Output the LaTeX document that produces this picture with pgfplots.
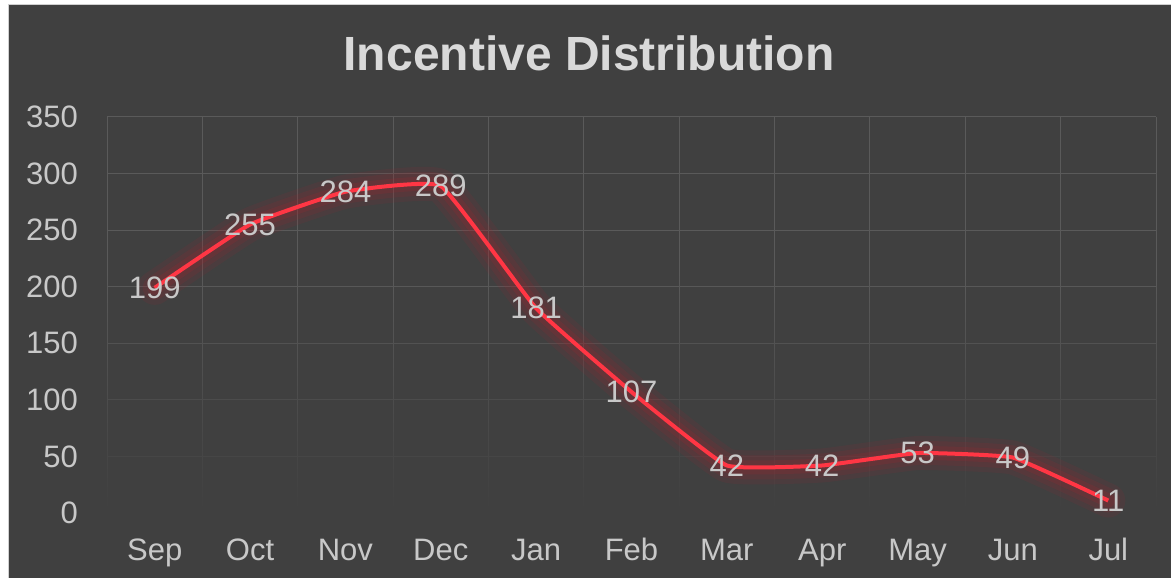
\documentclass[border=0pt]{standalone}
\usepackage{fontspec}
\setmainfont{Liberation Sans}
\usepackage{pgfplots}
\pgfplotsset{compat=1.18}
\usetikzlibrary{fadings}
\definecolor{bg}{HTML}{404040}
\definecolor{gridc}{HTML}{5A5A5A}
\definecolor{txt}{HTML}{C8C8C8}
\definecolor{ttl}{HTML}{D9D9D9}
\definecolor{linec}{HTML}{FF3644}
\definecolor{glowc}{HTML}{A02630}
\definecolor{frame}{HTML}{D0D0D0}
\pgfplotstableread{
x y
0 199
1 255
2 284
3 289
4 181
5 107
6 42
7 42
8 53
9 49
10 11
}\datatable
\begin{document}
\begin{tikzpicture}[x=1pt,y=1pt]
\useasboundingbox (0,0) rectangle (1171,578);
\fill[white] (0,0) rectangle (1171,578);
\fill[bg] (8.5,0) rectangle (1171,573.5);
\draw[frame,line width=1.5pt] (8.5,0) -- (8.5,573.5) -- (1171,573.5);
\node[anchor=base,text=ttl,font=\bfseries\fontsize{48}{56}\selectfont,inner sep=0pt] at (589,507) {Incentive Distribution};
\begin{axis}[
  at={(107pt,65pt)}, anchor=south west,
  scale only axis, width=1049pt, height=396pt,
  xmin=-0.5, xmax=10.5, ymin=0, ymax=350,
  xtick={0,...,10},
  xticklabels={Sep,Oct,Nov,Dec,Jan,Feb,Mar,Apr,May,Jun,Jul},
  minor xtick={-0.5,0.5,...,10.5},
  xminorgrids=true, xmajorgrids=false,
  ytick={0,50,...,350}, ymajorgrids=true,
  grid style={gridc,line width=1pt},
  minor grid style={gridc,line width=1pt},
  major tick length=0pt, minor tick length=0pt,
  axis line style={draw=none},
  /pgf/number format/assume math mode=true,
  ticklabel style={text=txt,font=\fontsize{31}{36}\selectfont,inner sep=0pt},
  xticklabel style={anchor=base,yshift=-48pt},
  yticklabel style={anchor=east,xshift=-29pt},
  clip=false,
]
\fill[bg,path fading=north] (axis cs:-0.6,-1) rectangle (axis cs:10.6,210);
\addplot[glowc,opacity=0.12,line width=34pt,smooth,tension=0.2,line join=round,line cap=round] table[x=x,y=y] {\datatable};
\addplot[glowc,opacity=0.15,line width=24pt,smooth,tension=0.2,line join=round,line cap=round] table[x=x,y=y] {\datatable};
\addplot[glowc,opacity=0.2,line width=14pt,smooth,tension=0.2,line join=round,line cap=round] table[x=x,y=y] {\datatable};
\addplot[linec,line width=4pt,smooth,tension=0.2,line join=round,
  nodes near coords,
  every node near coord/.append style={anchor=center,text=txt,font=\fontsize{31}{36}\selectfont,inner sep=0pt},
  point meta=explicit symbolic] table[x=x,y=y,meta=y] {\datatable};
\end{axis}
\end{tikzpicture}
\end{document}
